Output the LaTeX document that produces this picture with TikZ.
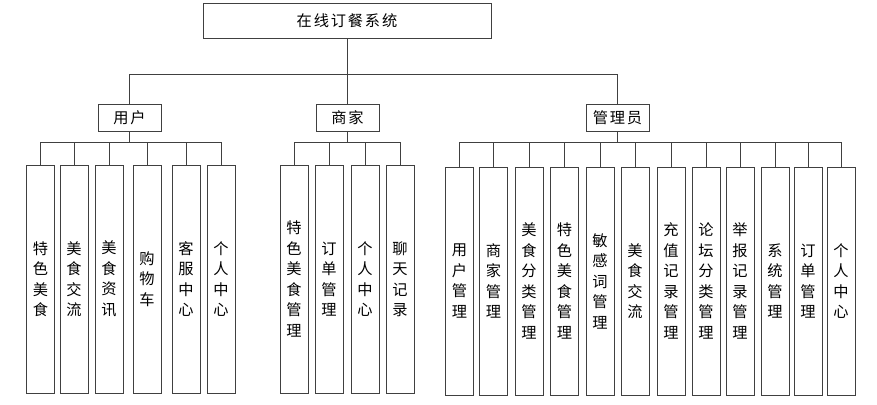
\documentclass[tikz,border=0pt]{standalone}
\usepackage{fontspec}
\setmainfont{Noto Sans CJK SC}
\newfontfamily\widecjk[LetterSpace=12]{Noto Sans CJK SC}
\begin{document}
\begin{tikzpicture}[x=0.3mm,y=-0.3mm,
    line/.style={draw=black!75, line width=0.8pt},
    box/.style={line, inner sep=0pt, align=center, font=\fontsize{13}{17.5}\selectfont},
    topbox/.style={box, minimum width=8.64cm, minimum height=1.05cm, font=\fontsize{13}{17.5}\widecjk},
    midbox/.style={box, minimum width=1.89cm, minimum height=0.81cm, font=\fontsize{13}{17.5}\widecjk},
    leaf/.style={box, minimum width=0.84cm, minimum height=6.84cm}]
    \useasboundingbox (0,0) rectangle (877,404);
    % top and second level
    \node[topbox] (root) at (347,20.5) {在线订餐系统};
    \node[midbox] (user) at (129.5,117.5) {用户};
    \node[midbox] (shop) at (347.5,117.5) {商家};
    \node[midbox] (admin) at (617.5,117.5) {管理员};
    \foreach \n in {user,shop,admin}
      \draw[line] (root.south) -- ++(0,36) -| (\n.north);
    % user modules
    \foreach \x/\t [count=\i] in {40.5/{特\\色\\美\\食}, 74/{美\\食\\交\\流},
        109/{美\\食\\资\\讯}, 147/{购\\物\\车}, 186/{客\\服\\中\\心}, 221/{个\\人\\中\\心}} {
      \node[leaf] (u\i) at (\x,279) {\t};
      \draw[line] (user.south) -- ++(0,11) -| (u\i.north);
    }
    % shop modules
    \foreach \x/\t [count=\i] in {294/{特\\色\\美\\食\\管\\理}, 329/{订\\单\\管\\理},
        365/{个\\人\\中\\心}, 400/{聊\\天\\记\\录}} {
      \node[leaf] (s\i) at (\x,279) {\t};
      \draw[line] (shop.south) -- ++(0,11) -| (s\i.north);
    }
    % admin modules
    \foreach \x/\t [count=\i] in {459.5/{用\\户\\管\\理}, 493.5/{商\\家\\管\\理},
        529/{美\\食\\分\\类\\管\\理}, 564.5/{特\\色\\美\\食\\管\\理}, 600/{敏\\感\\词\\管\\理},
        635/{美\\食\\交\\流}, 671/{充\\值\\记\\录\\管\\理}, 706/{论\\坛\\分\\类\\管\\理},
        740/{举\\报\\记\\录\\管\\理}, 775/{系\\统\\管\\理}, 808/{订\\单\\管\\理},
        841/{个\\人\\中\\心}} {
      \node[leaf] (a\i) at (\x,281) {\t};
      \draw[line] (admin.south) -- ++(0,11) -| (a\i.north);
    }
  \end{tikzpicture}
\end{document}
